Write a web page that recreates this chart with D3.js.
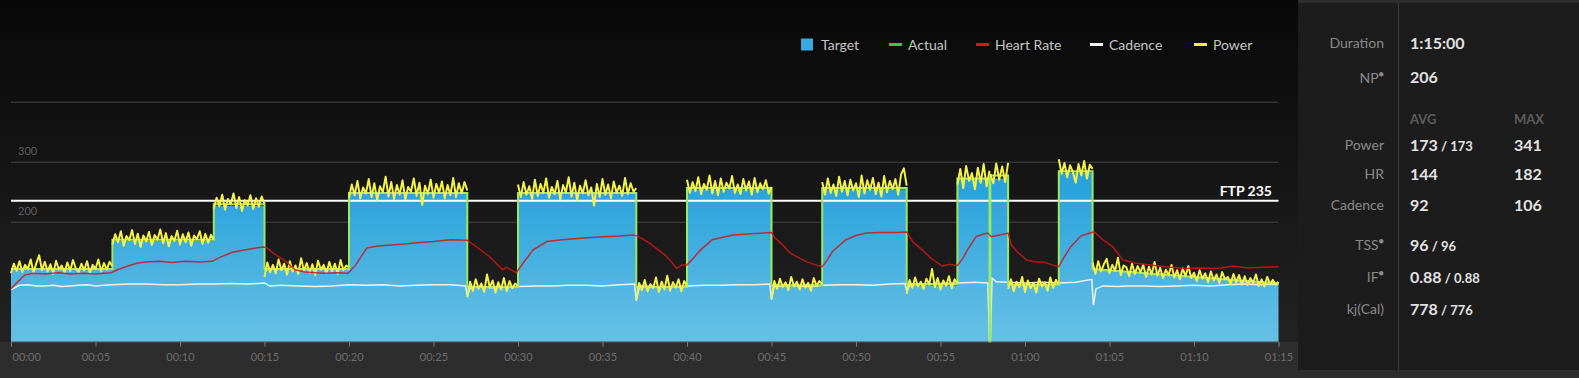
<!DOCTYPE html>
<html>
<head>
<meta charset="utf-8">
<script src="https://cdn.jsdelivr.net/npm/d3@7"></script>
<style>
  html, body { margin: 0; padding: 0; background: #2d2d2d; overflow: hidden; }
  svg { display: block; font-family: Lato, "Open Sans", sans-serif; }
</style>
</head>
<body>
<div id="chart-area"></div>
<script>
// DATA
const tickMinutes = [0, 5, 10, 15, 20, 25, 30, 35, 40, 45, 50, 55, 60, 65, 70, 75]
const gridWatts = [200, 300, 400]
const gridLabels = ["200", "300", ""]
const FTP = 235

// workout blocks (minutes)
const blockStarts = [0, 6, 12, 15, 20, 27, 30, 37, 40, 45, 48, 53, 56, 57.9, 57.95, 59, 62, 64]
const blockEnds   = [6, 12, 15, 20, 27, 30, 37, 40, 45, 48, 53, 56, 57.9, 57.95, 59, 62, 64, 75]
const targetStartW = [120, 168, 226, 120, 246, 90, 246, 90, 254, 93, 254, 94, 272, 272, 272, 94, 282, 122]
const targetEndW   = [120, 168, 226, 120, 246, 90, 246, 90, 254, 93, 254, 94, 272, 272, 272, 94, 282, 97]
const actualStartW = [121, 170, 229, 121, 248, 91, 248, 91, 256, 94, 256, 96, 272, 0, 277, 95, 284, 121]
const actualEndW   = [121, 170, 229, 121, 248, 91, 248, 91, 256, 94, 256, 96, 272, 0, 277, 95, 284, 97]

// power samples, spread evenly over each block
const powerByBlock = [
  [114,130,118,134,116,128,121,137,115,131,144,119,133,117,129,113,135,120,127,115,132,118,136,122,116,130,119,134,114,128,121,137,117,131,120,133,126],
  [162,179,166,184,160,176,169,186,163,180,158,177,167,183,161,178,170,187,164,181,159,176,168,185,162,179,166,182,160,177,171,184,163,180,165,178,170],
  [222,240,226,245,220,238,229,247,223,241,218,236,227,244,221,239,225,242,230],
  [108,132,116,128,114,137,119,130,112,134,117,127,113,139,118,131,115,129,111,135,120,128,114,133,117,130,113,136,119,127,124],
  [240,262,244,268,239,257,247,271,241,264,236,259,249,275,242,266,238,261,245,269,237,258,250,272,243,265,228,260,246,270,240,263,248,267,239,261,244,273,241,264,247,266,252],
  [74,100,85,104,88,97,83,112,90,102,82,99,87,106,84,101,89,97,93],
  [262,241,266,245,259,238,270,243,263,248,272,240,258,246,268,237,261,249,274,242,265,236,260,247,269,244,257,227,263,241,271,245,262,239,267,248,260,243,273,246,264,250,256],
  [70,98,86,103,84,96,89,107,83,100,87,110,85,99,90,104,84,101,93],
  [270,248,266,251,274,246,263,253,277,247,268,244,272,250,265,255,276,248,262,246,271,252,267,245,273,249,264,254,269,247,258],
  [72,101,88,105,91,99,86,108,92,100,87,104,90,98,85,106,93,101,96],
  [266,245,272,248,262,243,275,250,268,244,270,252,264,241,277,247,269,253,273,246,265,242,276,249,268,254,271,245,279,289,260],
  [80,103,90,107,92,100,88,105,95,121,91,106,87,102,93,109,89,104,98],
  [262,288,256,293,268,281,254,290,265,296,259,285],
  [0,0],
  [280,264,297,270,292,266,298],
  [88,104,84,100,91,108,83,102,89,98,82,105,92,99,85,107,90,103,95],
  [304,280,298,274,294,283,265,296,277,301,272,295,288],
  [132,113,134,117,129,138, 114,128,118,140,111,127, 124,109,130,113,126,116, 128,108,125,112,133,110,
   123,106,120,111,128,107, 119,104,122,109,126,106, 115,101,119,105,114,99, 117,102,112,98,116,104,
   108,96,113,99,111,95, 109,94,106,98,112,93, 104,92,108,96,103,95, 100]
]

const hrMinutes = [0,0.4,0.8,1.3,2,2.8,3.5,4.3,5,5.9,6.3,7,7.5,8,8.8,9.5,10.3,11.2,11.9,12.4,13.1,13.8,14.5,14.9,15.1,
  15.6,16.3,16.8,17.4,18.5,19.3,19.96,20.4,21.05,21.6,22.5,23.3,24,25,26,27,27.6,28.3,28.8,29.1,29.3,29.9,
  30.4,30.9,31.7,32.6,33.9,35,36,36.8,37.1,37.8,38.3,38.8,39.4,39.7,40,40.4,40.8,41.5,42.7,43.8,45,45.2,45.6,
  46.1,46.6,47.1,47.6,48,48.3,48.6,49.4,50,50.6,51.5,52.3,53,53.4,53.8,54.4,54.8,55.1,55.5,56,56.3,56.6,57.1,
  57.5,57.8,58,58.5,59,59.2,59.6,60.1,60.6,61.1,61.6,62,62.3,62.7,63.3,63.7,64.1,64.6,65.2,65.8,66.5,67.4,
  68.3,69.4,70.4,71.4,72.3,73.2,74.1,75]
const hrBpm = [88,100,111,114,113,115,113,114,113,115,120,127,131,133,134,132,134,133,134,141,149,153,156,158,157,
  146,133,120,116,114,115,114,128,156,159,161,163,165,167,170,169,157,142,128,120,124,115,
  135,153,167,170,173,175,176,178,176,164,153,142,122,128,128,140,153,170,178,180,182,173,163,
  148,140,133,128,125,136,150,170,177,181,182,182,183,165,156,140,132,126,129,127,138,153,175,
  179,181,175,178,181,161,148,136,133,133,128,125,140,158,176,180,183,170,158,136,131,128,
  125,122,123,122,126,123,124,125]

const cadMinutes = [0,0.5,1,1.5,2,2.5,3,3.5,4,4.5,5,5.5,6,7,8,9,10,11,12,13,14,15,15.3,16,17,18,19,20,21,22,23,24,25,26,26.9,27,27.2,
  28,28.5,29.3,30,31,32,33,34,35,36,36.9,37,37.2,38,38.5,39.3,40,41,42,43,44,44.9,45,45.15,46,46.5,47.3,48,49,50,51,52,52.9,53,53.2,
  54,55,56,57,57.8,57.9,57.95,58.05,58.3,59,60,61,62,63,
  63.95,64.05,64.2,64.6,65.5,66,67,68,69,70,71,72,73,74,75]
const cadRpm = [87,94,95,93,93,94,92,93,94,95,93,94,95,96,96,95,95,96,96,97,96,98,93,94,93,92,93,95,94,95,93,94,95,95,93,76,92,
  91,90,91,92,93,93,94,94,93,95,96,68,93,92,91,92,93,94,94,95,95,96,70,92,94,93,92,94,95,95,94,96,97,85,94,
  96,97,98,99,98,0,0,106,100,99,98,99,98,99,
  104,61,88,93,92,93,93,92,93,94,93,95,96,95,96]

const legendNames = ["Target", "Actual", "Heart Rate", "Cadence", "Power"]
const legendColors = ["#3aa9df", "#2fd12f", "#d41818", "#f2f2f2", "#f4f04a"]

const durationText = "1:15:00"
const npValue = "206"
const statNames = ["Power", "HR", "Cadence"]
const statAvg = ["173", "144", "92"]
const statAvgPlan = ["173", "", ""]
const statMax = ["341", "182", "106"]
const summaryNames = ["TSS", "IF", "kj(Cal)"]
const summaryActual = ["96", "0.88", "778"]
const summaryPlan = ["96", "0.88", "776"]

// LAYOUT
const W = 1579, H = 378
const MARGIN = { LEFT: 11, RIGHT: 300.5, TOP: 101.7, BOTTOM: 36.3 }
const PLOT_W = W - MARGIN.LEFT - MARGIN.RIGHT
const PLOT_H = H - MARGIN.TOP - MARGIN.BOTTOM

const svg = d3.select("#chart-area").append("svg")
  .attr("width", W)
  .attr("height", H)

const defs = svg.append("defs")
const bg = defs.append("linearGradient").attr("id", "bg")
  .attr("x1", 0).attr("y1", 0).attr("x2", 0).attr("y2", 1)
bg.append("stop").attr("offset", "0%").attr("stop-color", "#080808")
bg.append("stop").attr("offset", "35%").attr("stop-color", "#111111")
bg.append("stop").attr("offset", "100%").attr("stop-color", "#222222")

const blue = defs.append("linearGradient").attr("id", "blue")
  .attr("gradientUnits", "userSpaceOnUse")
  .attr("x1", 0).attr("y1", 190).attr("x2", 0).attr("y2", 341)
blue.append("stop").attr("offset", "0%").attr("stop-color", "#2aa3dc")
blue.append("stop").attr("offset", "100%").attr("stop-color", "#67c0e5")

// backgrounds
svg.append("rect").attr("width", W).attr("height", H).attr("fill", "#2d2d2d")
svg.append("rect").attr("width", 1298).attr("height", 342).attr("fill", "url(#bg)")

// SCALES
const x = d3.scaleLinear().domain([0, 75]).range([MARGIN.LEFT, MARGIN.LEFT + PLOT_W])
const y = d3.scaleLinear().domain([0, 400]).range([MARGIN.TOP + PLOT_H, MARGIN.TOP])

// grid
const g = svg.append("g")
g.selectAll("line.grid").data(gridWatts).enter().append("line")
  .attr("class", "grid")
  .attr("x1", x(0)).attr("x2", x(75))
  .attr("y1", d => y(d) + 0.5).attr("y2", d => y(d) + 0.5)
  .attr("stroke", "#464646").attr("stroke-width", 1)
g.selectAll("text.glabel").data(gridWatts).enter().append("text")
  .attr("class", "glabel")
  .attr("x", 18).attr("y", d => y(d) - 6.5)
  .attr("font-size", "11px").attr("fill", "#5e5e5e")
  .text((d, i) => gridLabels[i])

// series
const targetPts = []
const actualPts = []
blockStarts.forEach((s, i) => {
  targetPts.push([s, targetStartW[i]], [blockEnds[i], targetEndW[i]])
  actualPts.push([s, actualStartW[i]], [blockEnds[i], actualEndW[i]])
})
// each block is its own run of samples; the actual line carries the vertical edges
const powerRuns = powerByBlock.map((vals, i) => {
  const n = vals.length
  return vals.map((v, j) => [blockStarts[i] + (blockEnds[i] - blockStarts[i]) * j / (n - 1), v])
})
const hrPts = hrMinutes.map((m, i) => [m, hrBpm[i]])
const cadPts = cadMinutes.map((m, i) => [m, cadRpm[i]])

const area = d3.area().x(d => x(d[0])).y0(y(0)).y1(d => y(d[1]))
const line = d3.line().x(d => x(d[0])).y(d => y(d[1]))

g.append("path").datum(targetPts)
  .attr("d", area)
  .attr("fill", "url(#blue)")

// FTP line
g.append("line")
  .attr("x1", x(0)).attr("x2", x(75))
  .attr("y1", y(FTP)).attr("y2", y(FTP))
  .attr("stroke", "#ffffff").attr("stroke-width", 2)
g.append("text")
  .attr("x", 1272).attr("y", y(FTP) - 4.5)
  .attr("text-anchor", "end")
  .attr("font-size", "14px").attr("font-weight", 700)
  .attr("fill", "#ffffff")
  .text("FTP " + FTP)

g.append("path").datum(cadPts)
  .attr("d", line).attr("fill", "none")
  .attr("stroke", "#f2f2f2").attr("stroke-width", 1.5)

g.append("path").datum(actualPts)
  .attr("d", line).attr("fill", "none")
  .attr("stroke", "#9be863").attr("stroke-width", 2)

g.selectAll("path.power").data(powerRuns).enter().append("path")
  .attr("class", "power")
  .attr("d", line).attr("fill", "none")
  .attr("stroke", "#f4f246").attr("stroke-width", 2)
  .attr("stroke-linejoin", "round")

g.append("path").datum(hrPts)
  .attr("d", line).attr("fill", "none")
  .attr("stroke", "#d01616").attr("stroke-width", 1.5)
  .attr("opacity", 0.85)

// X AXIS
const fmt2 = d3.format("02")
const xAxisCall = d3.axisBottom(x)
  .tickValues(tickMinutes)
  .tickSize(5)
  .tickFormat(m => fmt2(Math.floor(m / 60)) + ":" + fmt2(m % 60))
const xAxis = svg.append("g")
  .attr("transform", `translate(0, ${y(0)})`)
  .call(xAxisCall)
xAxis.select(".domain").attr("stroke", "#4c4c4c")
xAxis.selectAll(".tick line").attr("stroke", "#7a7a7a")
xAxis.selectAll(".tick text")
  .attr("y", 12)
  .attr("fill", "#6e6e6e")
  .attr("font-size", "11px")
  .attr("font-family", "Lato, sans-serif")
xAxis.select(".tick text").attr("text-anchor", "start").attr("x", 1)

// LEGEND
const legendMarkX = [801, 889, 976, 1090, 1194]
const legendTextX = [821, 908, 995, 1109, 1213]
const legend = svg.append("g")
legendNames.forEach((name, i) => {
  if (i === 0) {
    legend.append("rect").attr("x", legendMarkX[i]).attr("y", 38.5)
      .attr("width", 12).attr("height", 12).attr("fill", legendColors[i])
  } else {
    legend.append("rect").attr("x", legendMarkX[i]).attr("y", 43)
      .attr("width", 13).attr("height", 3).attr("fill", legendColors[i])
  }
  legend.append("text").attr("x", legendTextX[i]).attr("y", 49.5)
    .attr("font-size", "14px").attr("fill", "#c4c4c4")
    .text(name)
})

// RIGHT PANEL
const panel = svg.append("g")
panel.append("rect").attr("x", 1298).attr("y", 3).attr("width", W - 1298).attr("height", 367)
  .attr("fill", "#1c1c1c")
panel.append("line").attr("x1", 1398.5).attr("x2", 1398.5).attr("y1", 3).attr("y2", 370)
  .attr("stroke", "#383838")

const LABEL_X = 1384, VAL_X = 1410, MAX_X = 1514

function label(yPos, txt, sup) {
  const t = panel.append("text").attr("x", LABEL_X).attr("y", yPos)
    .attr("text-anchor", "end").attr("font-size", "14px").attr("fill", "#8a8a8a")
    .text(txt)
  if (sup) t.append("tspan").attr("font-size", "9px").attr("dy", -6).text("\u25CF")
}
function value(xPos, yPos, main, plan) {
  const t = panel.append("text").attr("x", xPos).attr("y", yPos)
    .attr("font-size", "16px").attr("font-weight", 700).attr("fill", "#e2e2e2")
    .text(main)
  if (plan) t.append("tspan").attr("font-size", "13px").text(" / " + plan)
}

label(48, "Duration")
value(VAL_X, 49, durationText)
label(83, "NP", true)
value(VAL_X, 83, npValue)

panel.append("text").attr("x", VAL_X).attr("y", 124)
  .attr("font-size", "13px").attr("font-weight", 700).attr("fill", "#5c5c5c").text("AVG")
panel.append("text").attr("x", MAX_X).attr("y", 124)
  .attr("font-size", "13px").attr("font-weight", 700).attr("fill", "#5c5c5c").text("MAX")

const statY = [150.5, 180, 210.5]
statNames.forEach((n, i) => {
  label(statY[i] - 1, n)
  value(VAL_X, statY[i], statAvg[i], statAvgPlan[i])
  value(MAX_X, statY[i], statMax[i])
})

const sumY = [250.5, 282.5, 314.5]
summaryNames.forEach((n, i) => {
  label(sumY[i] - 1, n, i < 2)
  value(VAL_X, sumY[i], summaryActual[i], summaryPlan[i])
})
</script>
</body>
</html>
